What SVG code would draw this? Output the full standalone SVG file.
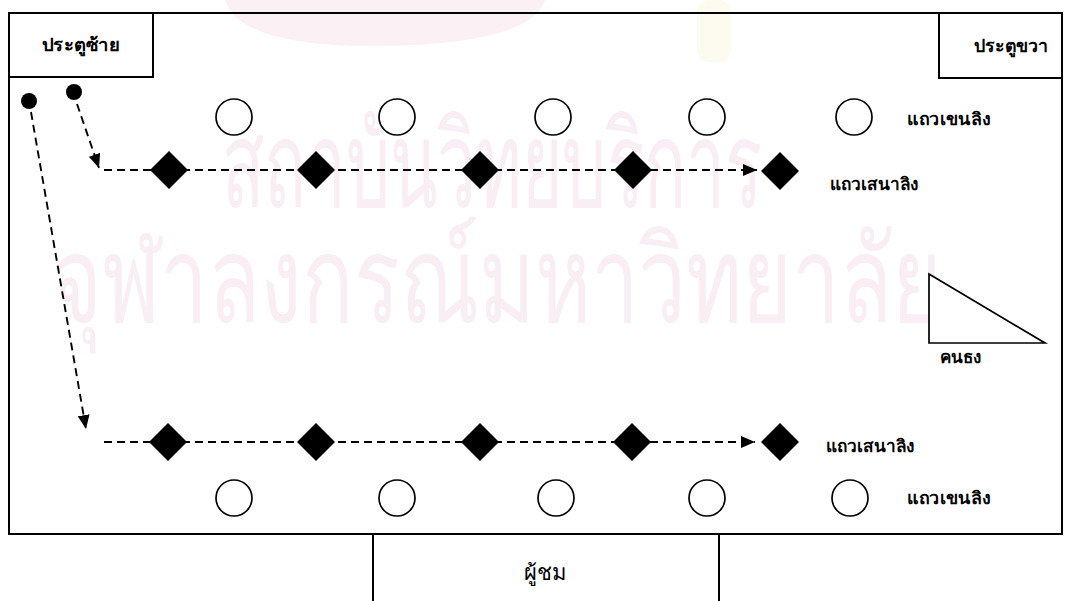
<svg xmlns="http://www.w3.org/2000/svg" width="1073" height="601" viewBox="0 0 1073 601">
<defs>
<marker id="ah" markerWidth="14" markerHeight="12" refX="14" refY="6" orient="auto" markerUnits="userSpaceOnUse"><path d="M0,0 L14,6 L0,12 z" fill="#000"/></marker>
<style>
.frame{fill:none;stroke:#000;stroke-width:2}
.box{fill:#fff;stroke:#000;stroke-width:2}
.dash{fill:none;stroke:#000;stroke-width:1.9;stroke-dasharray:8 5}
.dia{fill:#000}
.cir{fill:#fff;stroke:#000;stroke-width:1.7}
.tri{fill:#fff;stroke:#000;stroke-width:1.7}
.lbl{font-family:"Liberation Serif","DejaVu Serif",serif;font-weight:bold;font-size:17px;fill:#000}
.door{font-family:"Liberation Serif","DejaVu Serif",serif;font-weight:bold;font-size:18px;fill:#000}
.aud{font-family:"Liberation Serif","DejaVu Serif",serif;font-size:22px;fill:#000}
.wm{font-family:"Noto Sans","DejaVu Sans",sans-serif;font-size:120px;fill:#f8eef4}
</style>
</defs>
<rect width="1073" height="601" fill="#fff"/>
<g id="watermark">
<path d="M225,0 Q240,48 385,46 Q530,44 545,0 Z" fill="#fbf1f4"/>
<rect x="697" y="0" width="34" height="62" rx="12" fill="#fdfaf0"/>
<text class="wm" x="222" y="207" textLength="540" lengthAdjust="spacingAndGlyphs">สถาบันวิทยบริการ</text>
<text class="wm" x="52" y="322" textLength="890" lengthAdjust="spacingAndGlyphs">จุฬาลงกรณ์มหาวิทยาลัย</text>
</g>
<g id="stage"><rect class="frame" x="9" y="13" width="1053" height="521"/></g>
<g id="door-left"><rect class="box" x="9" y="13" width="144" height="64"/><text class="door" x="42" y="51" textLength="78" lengthAdjust="spacingAndGlyphs">ประตูซ้าย</text></g>
<g id="door-right"><rect class="box" x="939" y="13" width="123" height="65"/><text class="door" x="974" y="52" textLength="74" lengthAdjust="spacingAndGlyphs">ประตูขวา</text></g>
<g id="audience"><rect class="box" x="373" y="534" width="346" height="80"/><text class="aud" x="545" y="580" text-anchor="middle">ผู้ชม</text></g>
<g id="connectors">
<path class="dash" d="M77,104 L99,168" marker-end="url(#ah)"/>
<path class="dash" d="M31,112 L86,429" marker-end="url(#ah)"/>
<path class="dash" d="M104,170 L757,170" marker-end="url(#ah)"/>
<path class="dash" d="M104,442 L755,442" marker-end="url(#ah)"/>
</g>
<g id="starts"><circle cx="29" cy="101" r="8" fill="#000"/><circle cx="74" cy="92" r="8" fill="#000"/></g>
<g id="row-spear-top">
<path class="dia" d="M169,151 L188,170 L169,189 L150,170 Z"/>
<path class="dia" d="M316,151 L335,170 L316,189 L297,170 Z"/>
<path class="dia" d="M480,151 L499,170 L480,189 L461,170 Z"/>
<path class="dia" d="M633,151 L652,170 L633,189 L614,170 Z"/>
<path class="dia" d="M780,152 L799,171 L780,190 L761,171 Z"/>
<text class="lbl" x="830" y="190" textLength="88" lengthAdjust="spacingAndGlyphs">แถวเสนาลิง</text>
</g>
<g id="row-shield-top">
<circle class="cir" cx="234" cy="117" r="18"/>
<circle class="cir" cx="397" cy="117" r="18"/>
<circle class="cir" cx="553" cy="117" r="18"/>
<circle class="cir" cx="707" cy="117" r="18"/>
<circle class="cir" cx="854" cy="117" r="18"/>
<text class="lbl" x="907" y="125" textLength="83" lengthAdjust="spacingAndGlyphs">แถวเขนลิง</text>
</g>
<g id="flag-man"><path class="tri" d="M929,274 L929,343 L1045,343 Z"/><text class="lbl" x="940" y="363">คนธง</text></g>
<g id="row-spear-bottom">
<path class="dia" d="M168,423 L187,442 L168,461 L149,442 Z"/>
<path class="dia" d="M316,423 L335,442 L316,461 L297,442 Z"/>
<path class="dia" d="M480,423 L499,442 L480,461 L461,442 Z"/>
<path class="dia" d="M632,423 L651,442 L632,461 L613,442 Z"/>
<path class="dia" d="M780,423 L799,442 L780,461 L761,442 Z"/>
<text class="lbl" x="826" y="452" textLength="88" lengthAdjust="spacingAndGlyphs">แถวเสนาลิง</text>
</g>
<g id="row-shield-bottom">
<circle class="cir" cx="234" cy="498" r="18"/>
<circle class="cir" cx="397" cy="498" r="18"/>
<circle class="cir" cx="556" cy="498" r="18"/>
<circle class="cir" cx="707" cy="498" r="18"/>
<circle class="cir" cx="850" cy="498" r="18"/>
<text class="lbl" x="907" y="504" textLength="83" lengthAdjust="spacingAndGlyphs">แถวเขนลิง</text>
</g>
</svg>
